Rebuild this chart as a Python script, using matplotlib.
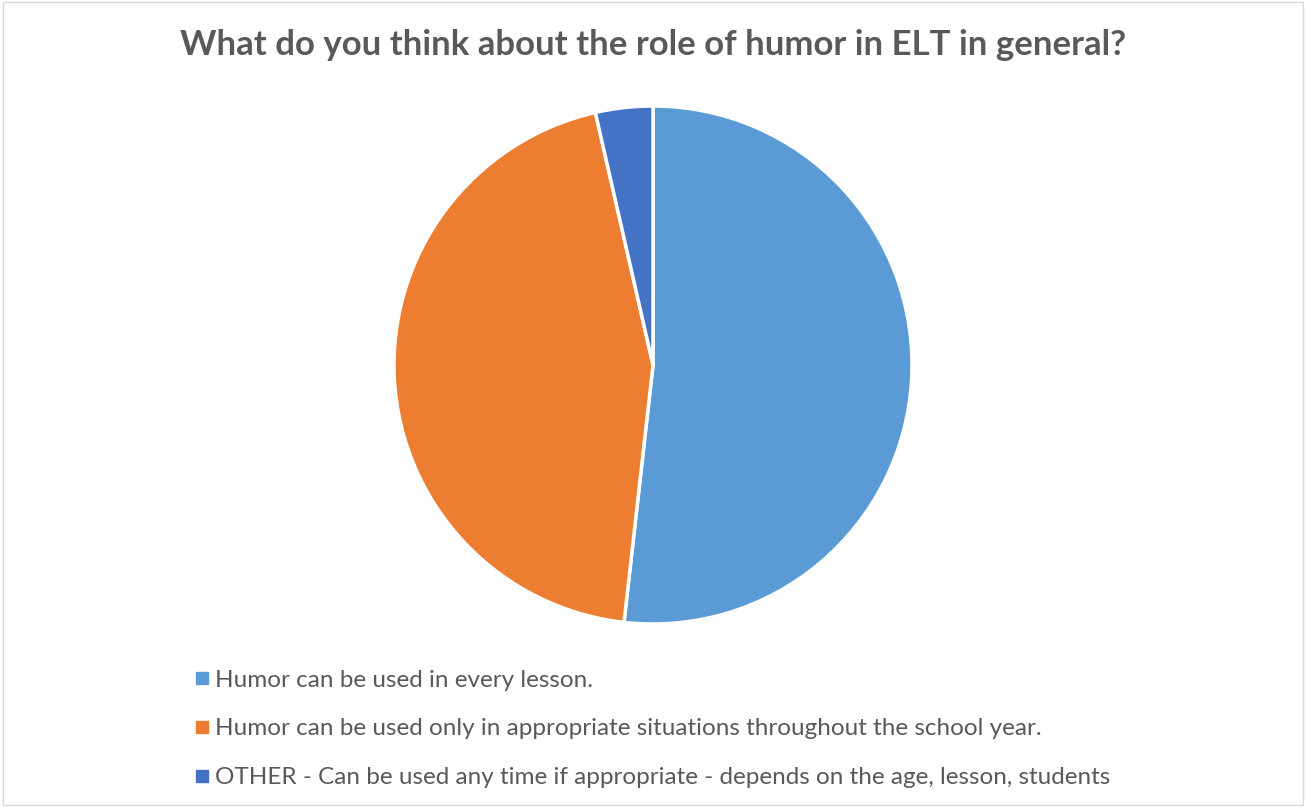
import matplotlib
matplotlib.use("Agg")
import matplotlib.pyplot as plt
from matplotlib.lines import Line2D
from matplotlib.patches import Rectangle

TITLE = "What do you think about the role of humor in ELT in general?"
LABELS = [
    "Humor can be used in every lesson.",
    "Humor can be used only in appropriate situations throughout the school year.",
    "OTHER - Can be used any time if appropriate - depends on the age, lesson, students",
]
COUNTS = [29, 25, 2]
COLORS = ["#5B9BD5", "#ED7D31", "#4472C4"]

plt.rcParams["font.family"] = ["Lato", "DejaVu Sans"]

fig = plt.figure(figsize=(13.06, 8.07), dpi=100)
fig.patches.append(Rectangle((0.002, 0.002), 0.996, 0.996, transform=fig.transFigure,
                             fill=False, edgecolor="#D9D9D9", lw=1.0))

ax = fig.add_axes([394 / 1306, 183 / 807, 518 / 1306, 518 / 807])
ax.pie(COUNTS, colors=COLORS, startangle=90, counterclock=False,
       wedgeprops=dict(edgecolor="white", linewidth=2.5))
ax.set_xlim(-1, 1)
ax.set_ylim(-1, 1)
ax.set_aspect("equal")

fig.text(653 / 1306, 1 - 45 / 807, TITLE, ha="center", va="center",
         fontsize=25, fontweight="bold", color="#595959")

handles = [Line2D([], [], marker="s", ls="none", markersize=8, color=c) for c in COLORS]
fig.legend(handles, LABELS, loc="upper left", bbox_to_anchor=(186 / 1306, 1 - 660 / 807),
           frameon=False, fontsize=17.5, labelcolor="#595959", handlelength=0.5,
           handletextpad=0.3, labelspacing=1.14, borderaxespad=0)

fig.savefig("out.png", dpi=100)
